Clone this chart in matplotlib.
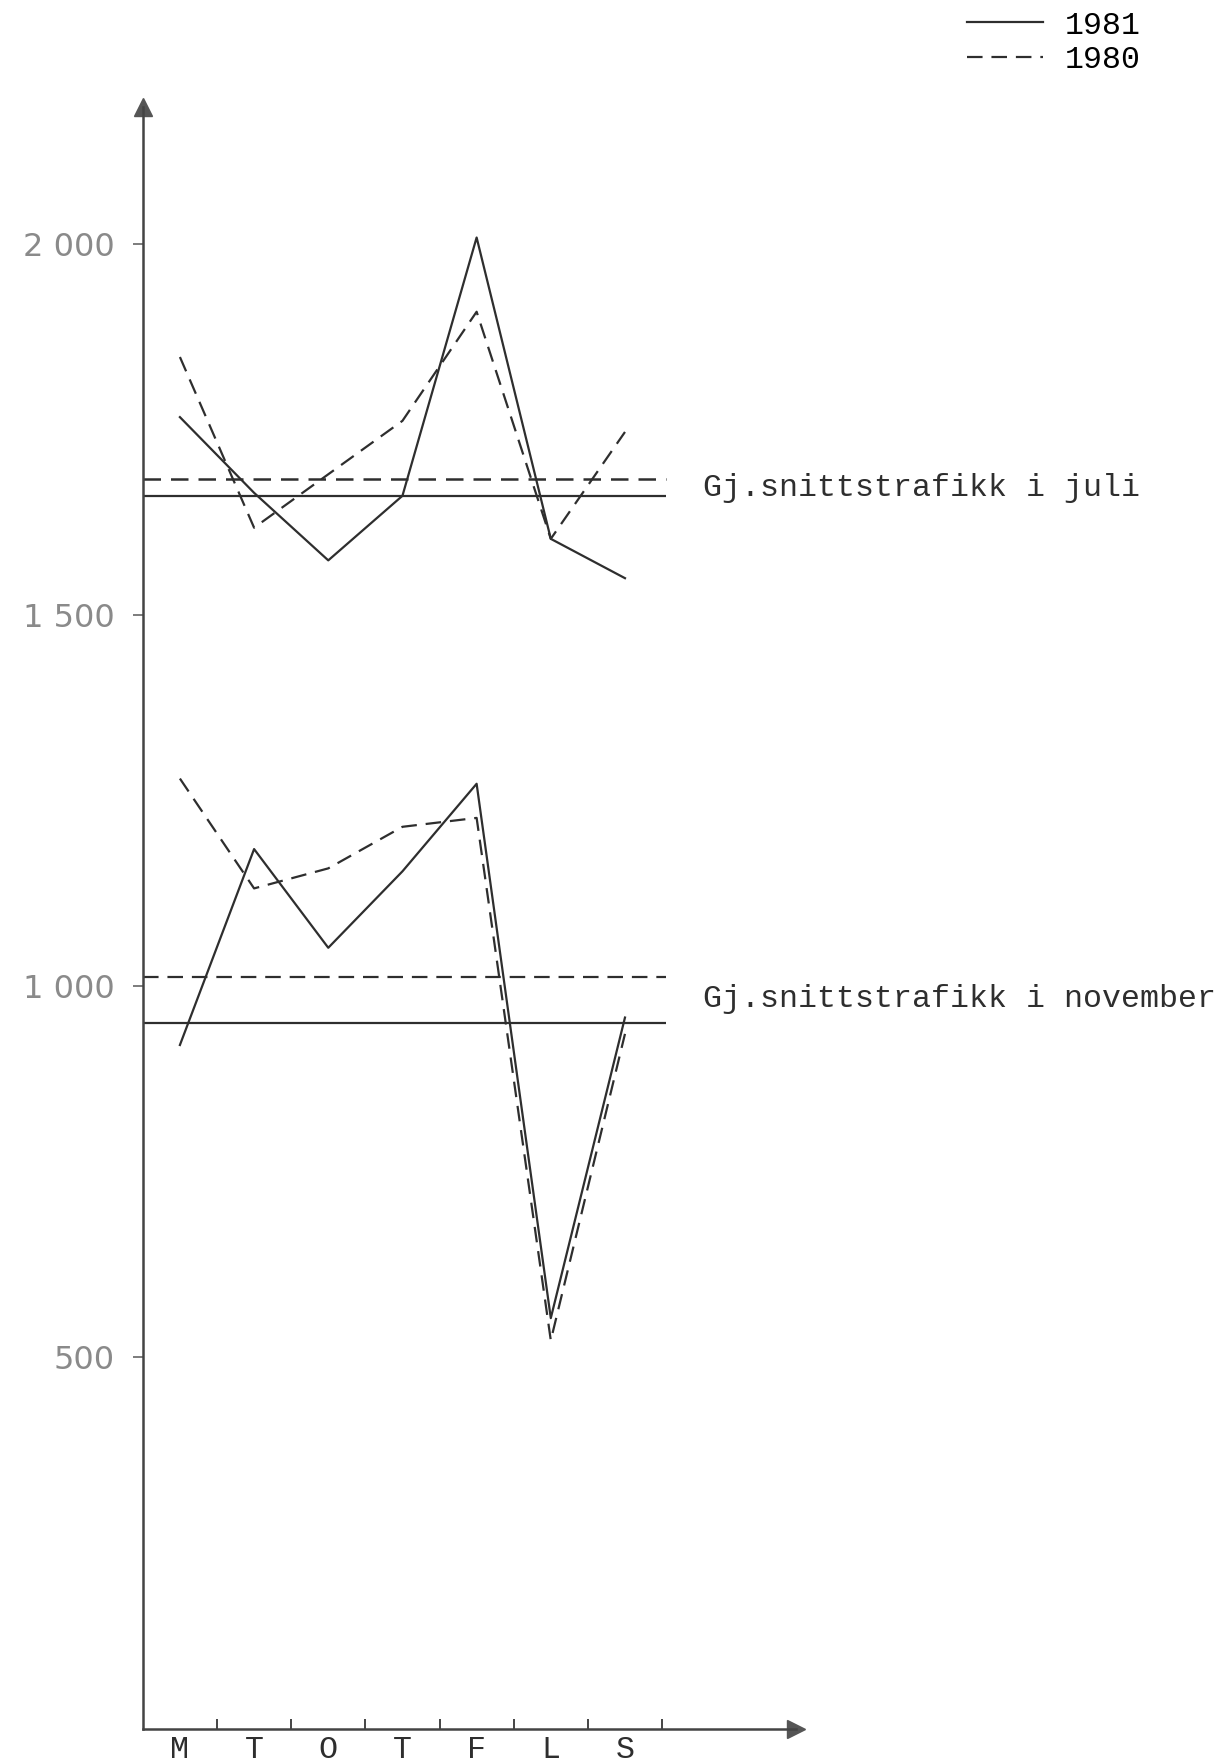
import numpy as np
import matplotlib
matplotlib.use("Agg")
import matplotlib.pyplot as plt

days = ['M', 'T', 'O', 'T', 'F', 'L', 'S']

juli_1981 = [1767, 1665, 1574, 1661, 2009, 1603, 1550]
juli_1980 = [1848, 1618, 1690, 1762, 1909, 1603, 1747]
nov_1981  = [921, 1185, 1052, 1155, 1273, 553, 958]
nov_1980  = [1280, 1132, 1159, 1215, 1227, 523, 936]

snitt_juli = {'1981': 1661, '1980': 1683}
snitt_nov  = {'1981': 950, '1980': 1012}

yticks = [500, 1000, 1500, 2000]
ytick_labels = ['500', '1 000', '1 500', '2 000']

mono = 'Liberation Mono'
ink = '#2e2e2e'
dash = (0, (7, 4))
lw = 1.6

fig = plt.figure(figsize=(12.27, 17.64), dpi=100)
ax = fig.add_axes([0.1164, 0.0201, 0.532, 0.9193])

x = np.arange(len(days))
ax.plot(x, juli_1981, color=ink, lw=lw, label='1981')
ax.plot(x, juli_1980, color=ink, lw=lw, ls=dash, label='1980')
ax.plot(x, nov_1981, color=ink, lw=lw)
ax.plot(x, nov_1980, color=ink, lw=lw, ls=dash)

xend = 6.55
ax.hlines(snitt_juli['1981'], -0.5, xend, color=ink, lw=lw)
ax.hlines(snitt_juli['1980'], -0.5, xend, color=ink, lw=1.8, ls=dash)
ax.hlines(snitt_nov['1981'], -0.5, xend, color=ink, lw=lw)
ax.hlines(snitt_nov['1980'], -0.5, xend, color=ink, lw=lw, ls=dash)

ax.text(7.05, 1672, 'Gj.snittstrafikk i juli', family=mono, fontsize=22.8,
        va='center', ha='left', color=ink, clip_on=False)
ax.text(7.05, 983, 'Gj.snittstrafikk i november', family=mono, fontsize=22.8,
        va='center', ha='left', color=ink, clip_on=False)

ax.set_xlim(-0.5, 8.3)
ax.set_ylim(0, 2185)

for s in ['top', 'right']:
    ax.spines[s].set_visible(False)
for s in ['left', 'bottom']:
    ax.spines[s].set_color('#444')
    ax.spines[s].set_linewidth(1.8)

# arrow heads
ax.plot(-0.5, 2185, marker='^', ms=13, color='#555', clip_on=False)
ax.plot(8.3, 0, marker='>', ms=13, color='#555', clip_on=False)

ax.set_yticks(yticks)
ax.set_yticklabels(ytick_labels, fontsize=23, color='#8a8a8a')
ax.tick_params(axis='y', length=7, width=1.2, color='#666', pad=13)

ax.set_xticks(x)
ax.set_xticklabels(days, family=mono, fontsize=22.8, color=ink)
ax.tick_params(axis='x', which='major', length=0, pad=5)
ax.set_xticks(x + 0.5, minor=True)
ax.tick_params(axis='x', which='minor', direction='in', length=7, width=1.4, color='#444')

fig.legend(loc='upper right', bbox_to_anchor=(0.943, 1.003), frameon=False,
           prop={'family': mono, 'size': 22.8}, handlelength=2.4,
           handletextpad=0.7, labelspacing=0.15, borderaxespad=0.1)

fig.savefig('out.png', dpi=100, facecolor='white')
